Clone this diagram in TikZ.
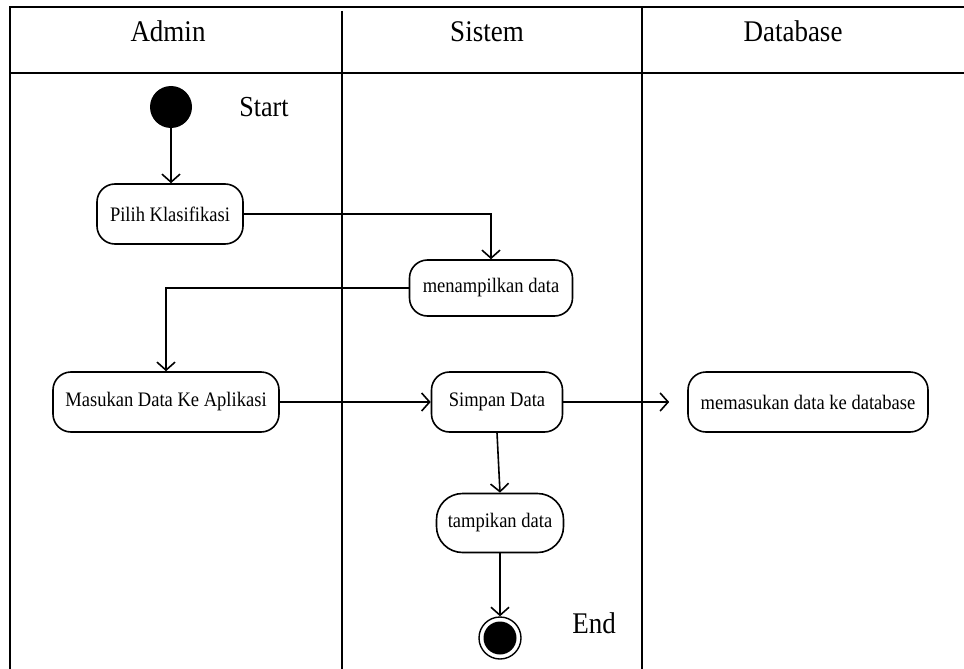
\documentclass[tikz,border=0pt]{standalone}
\usepackage{fontspec}
\setmainfont{Liberation Serif}[FakeStretch=0.9]
\usetikzlibrary{arrows.meta}

\begin{document}
\begin{tikzpicture}[x=1pt, y=-1pt,
  lane/.style={line width=2pt},
  act/.style={draw, line width=1.6pt, rounded corners=18pt, inner sep=0pt,
    font=\fontsize{20.6}{22}\selectfont, align=center},
  flow/.style={line width=1.6pt,
    -{Straight Barb[length=8pt, width=18pt, line width=1.6pt]}},
  hdr/.style={anchor=base, font=\fontsize{30}{32}\selectfont},
  tag/.style={anchor=base, font=\fontsize{29}{31}\selectfont}]

\useasboundingbox (0,0) rectangle (964,669);

% swimlane frame
\draw[lane] (964,7) -- (10,7) -- (10,669);
\draw[lane] (10,73) -- (964,73);
\draw[lane] (342,11) -- (342,669);
\draw[lane] (642,7) -- (642,669);

% lane headers
\node[hdr] (hAdmin) at (168,42) {Admin};
\node[hdr] (hSistem) at (487,42) {Sistem};
\node[hdr] (hDb) at (793,42) {Database};

% start and end markers
\node[circle, fill=black, minimum size=42pt, inner sep=0pt] (start) at (171,107) {};
\node[tag] (startlbl) at (264,117) {Start};

\node[circle, draw, line width=1.4pt, minimum size=42pt, inner sep=0pt] (end) at (500,638) {};
\node[circle, fill=black, minimum size=33pt, inner sep=0pt] (endcore) at (end.center) {};
\node[tag, font=\fontsize{30}{32}\selectfont] (endlbl) at (594,633) {End};

% activities
\node[act, minimum width=146pt, minimum height=60pt] (pilih) at (170,214) {Pilih Klasifikasi};
\node[act, minimum width=163pt, minimum height=56pt] (tampil) at (491,288) {menampilkan data};
\node[act, minimum width=226pt, minimum height=60pt] (masuk) at (166,402) {Masukan Data Ke Aplikasi};
\node[act, minimum width=131pt, minimum height=60pt] (simpan) at (497,402) {Simpan Data};
\node[act, minimum width=240pt, minimum height=60pt] (db) at (808,402) {memasukan data ke database};
\node[act, rounded corners=26pt, minimum width=127pt, minimum height=59pt] (tampik) at (500,523) {tampikan data};

% control flow
\draw[flow] (start.south) -- (start.south |- pilih.north);
\draw[flow] (pilih.east) -| (tampil.north);
\draw[flow] (tampil.west) -| (masuk.north);
\draw[flow] (masuk.east) -- (simpan.west);
\draw[flow, shorten >=18pt] (simpan.east) -- (db.west);
\draw[flow] (simpan.south) -- (tampik.north);
\draw[flow] (tampik.south) -- (end.north);

\end{tikzpicture}
\end{document}
